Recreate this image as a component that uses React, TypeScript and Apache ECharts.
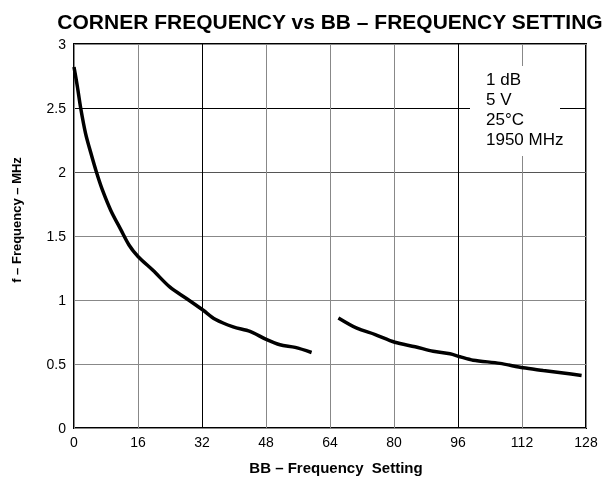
import React, { useEffect, useRef } from "react";
import * as echarts from "echarts";

const xTicks = [0, 16, 32, 48, 64, 80, 96, 112, 128];
const yTicks = [0, 0.5, 1, 1.5, 2, 2.5, 3];

// segment 1 (low BB settings)
const seg1X = [0, 0.83, 1.67, 2.9, 4.2, 5.6, 7.1, 9.2, 11.7, 13.75, 16, 19.8, 24, 28.2, 32.3, 35.3, 39.8, 44, 48.2, 51.5, 55.3, 59.4];
const seg1Y = [2.82, 2.67, 2.5, 2.3, 2.15, 2.0, 1.86, 1.7, 1.55, 1.43, 1.34, 1.23, 1.1, 1.01, 0.92, 0.85, 0.79, 0.755, 0.69, 0.65, 0.63, 0.59];
// segment 2 (high BB settings)
const seg2X = [66.1, 70.7, 75.3, 80.2, 85.3, 89.8, 94, 96.5, 99.8, 106.5, 112.3, 117.3, 122.3, 126.9];
const seg2Y = [0.86, 0.78, 0.73, 0.67, 0.635, 0.6, 0.58, 0.557, 0.53, 0.505, 0.47, 0.45, 0.43, 0.41];

const notes = ["1 dB", "5 V", "25°C", "1950 MHz"];

const FONT = "'Liberation Sans', Arial, Helvetica, sans-serif";

export default function App() {
  const ref = useRef<HTMLDivElement>(null);
  useEffect(() => {
    if (!ref.current) return;
    const chart = echarts.init(ref.current, null, { renderer: "svg" });
    const data: (number[] | null)[] = [];
    seg1X.forEach((x, i) => data.push([x, seg1Y[i]]));
    data.push(null);
    seg2X.forEach((x, i) => data.push([x, seg2Y[i]]));
    chart.setOption({
      animation: false,
      textStyle: { fontFamily: FONT },
      title: {
        text: "CORNER FREQUENCY vs BB – FREQUENCY SETTING",
        left: 325,
        top: 6,
        textAlign: "center",
        textStyle: { fontFamily: FONT, fontSize: 21, fontWeight: "bold", color: "#000" },
      },
      grid: {
        left: 74,
        right: 22,
        top: 44,
        bottom: 53,
        show: true,
        borderColor: "#000",
        borderWidth: 2,
        backgroundColor: "transparent",
      },
      xAxis: {
        type: "value",
        min: 0,
        max: 128,
        interval: 16,
        axisLine: { show: false },
        axisTick: { show: false },
        axisLabel: {
          margin: 7,
          fontSize: 14,
          color: "#000",
          fontFamily: FONT,
          formatter: (v: number) => (xTicks.includes(v) ? String(v) : ""),
        },
        splitLine: {
          show: true,
          lineStyle: { color: ["#888", "#888", "#000", "#888"], width: 1 },
        },
      },
      yAxis: {
        type: "value",
        min: 0,
        max: 3,
        interval: 0.5,
        axisLine: { show: false },
        axisTick: { show: false },
        axisLabel: {
          margin: 8,
          fontSize: 14,
          color: "#000",
          fontFamily: FONT,
          formatter: (v: number) => (yTicks.includes(v) ? String(v) : ""),
        },
        splitLine: {
          show: true,
          lineStyle: { color: ["#888", "#888", "#888", "#888", "#555", "#000", "#888"], width: 1 },
        },
      },
      graphic: [
        {
          type: "rect",
          shape: { x: 470, y: 66, width: 90, height: 90 },
          style: { fill: "#fff" },
          z: 5,
        },
        ...notes.map((t, i) => ({
          type: "text",
          x: 486,
          y: 79 + i * 20,
          z: 6,
          style: {
            text: t,
            fontFamily: FONT,
            fontSize: 17,
            fill: "#000",
            verticalAlign: "middle",
            align: "left",
          },
        })),
        {
          type: "text",
          x: 336,
          y: 467,
          style: {
            text: "BB – Frequency  Setting",
            fontFamily: FONT,
            fontSize: 15,
            fontWeight: "bold",
            fill: "#000",
            align: "center",
            verticalAlign: "middle",
          },
        },
        {
          type: "text",
          x: 16,
          y: 220,
          rotation: Math.PI / 2,
          style: {
            text: "f – Frequency – MHz",
            fontFamily: FONT,
            fontSize: 13,
            fontWeight: "bold",
            fill: "#000",
            align: "center",
            verticalAlign: "middle",
          },
        },
      ],
      series: [
        {
          type: "line",
          data,
          smooth: 0.3,
          connectNulls: false,
          showSymbol: false,
          symbol: "none",
          lineStyle: { color: "#000", width: 3.5 },
          z: 3,
        },
      ],
    });
    return () => chart.dispose();
  }, []);
  return (
    <div
      ref={ref}
      style={{ position: "fixed", left: 0, top: 0, width: 608, height: 481 }}
    />
  );
}
